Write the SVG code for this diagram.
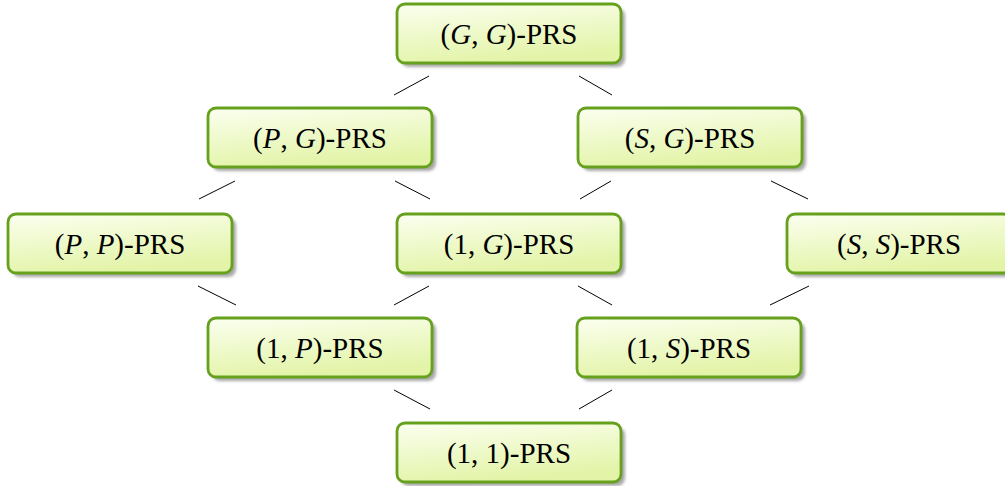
<svg xmlns="http://www.w3.org/2000/svg" width="1005" height="486" viewBox="0 0 1005 486">
<defs>
<linearGradient id="g" x1="0" y1="0" x2="0.3" y2="1">
<stop offset="0" stop-color="#fbfff0"/>
<stop offset="1" stop-color="#e3f4a8"/>
</linearGradient>
<filter id="sh" x="-10%" y="-20%" width="120%" height="140%">
<feGaussianBlur stdDeviation="1.5"/>
</filter>
</defs>
<style>
.s{fill:#a8a8a8;filter:url(#sh)}
.b{fill:url(#g);stroke:#66a11e;stroke-width:2.8}
.t{font-family:"Liberation Serif","Times New Roman",serif;font-size:29px;fill:#000;text-anchor:middle}
.i{font-style:italic}
.c line{stroke:#000;stroke-width:1}
</style>
<g class="c" id="connectors">
<line x1="429" y1="76" x2="394" y2="95"/>
<line x1="579" y1="76" x2="612" y2="95"/>
<line x1="235" y1="181" x2="199" y2="199"/>
<line x1="395" y1="181" x2="430" y2="199"/>
<line x1="611" y1="181" x2="580" y2="199"/>
<line x1="771" y1="181" x2="808" y2="199"/>
<line x1="198" y1="286" x2="236" y2="305"/>
<line x1="429" y1="286" x2="394" y2="305"/>
<line x1="578" y1="286" x2="612" y2="305"/>
<line x1="809" y1="286" x2="770" y2="305"/>
<line x1="394" y1="390" x2="430" y2="409"/>
<line x1="612" y1="390" x2="579" y2="409"/>
</g>
<g id="GG">
<rect class="s" x="401" y="8" width="224" height="59" rx="8"/>
<rect class="b" x="397" y="4" width="224" height="59" rx="8"/>
<text class="t" x="509" y="44">(<tspan class="i">G</tspan>, <tspan class="i">G</tspan>)-PRS</text>
</g>
<g id="PG">
<rect class="s" x="212" y="112" width="224" height="59" rx="8"/>
<rect class="b" x="208" y="108" width="224" height="59" rx="8"/>
<text class="t" x="320" y="148">(<tspan class="i">P</tspan>, <tspan class="i">G</tspan>)-PRS</text>
</g>
<g id="SG">
<rect class="s" x="582" y="112" width="224" height="59" rx="8"/>
<rect class="b" x="578" y="108" width="224" height="59" rx="8"/>
<text class="t" x="690" y="148">(<tspan class="i">S</tspan>, <tspan class="i">G</tspan>)-PRS</text>
</g>
<g id="PP">
<rect class="s" x="12" y="218" width="224" height="59" rx="8"/>
<rect class="b" x="8" y="214" width="224" height="59" rx="8"/>
<text class="t" x="120" y="254">(<tspan class="i">P</tspan>, <tspan class="i">P</tspan>)-PRS</text>
</g>
<g id="1G">
<rect class="s" x="401" y="218" width="224" height="59" rx="8"/>
<rect class="b" x="397" y="214" width="224" height="59" rx="8"/>
<text class="t" x="509" y="254">(1, <tspan class="i">G</tspan>)-PRS</text>
</g>
<g id="SS">
<rect class="s" x="791" y="218" width="224" height="59" rx="8"/>
<rect class="b" x="787" y="214" width="224" height="59" rx="8"/>
<text class="t" x="899" y="254">(<tspan class="i">S</tspan>, <tspan class="i">S</tspan>)-PRS</text>
</g>
<g id="1P">
<rect class="s" x="212" y="322" width="224" height="59" rx="8"/>
<rect class="b" x="208" y="318" width="224" height="59" rx="8"/>
<text class="t" x="320" y="358">(1, <tspan class="i">P</tspan>)-PRS</text>
</g>
<g id="1S">
<rect class="s" x="581" y="322" width="224" height="59" rx="8"/>
<rect class="b" x="577" y="318" width="224" height="59" rx="8"/>
<text class="t" x="689" y="358">(1, <tspan class="i">S</tspan>)-PRS</text>
</g>
<g id="11">
<rect class="s" x="401" y="427" width="224" height="59" rx="8"/>
<rect class="b" x="397" y="423" width="224" height="59" rx="8"/>
<text class="t" x="509" y="463">(1, 1)-PRS</text>
</g>
</svg>
